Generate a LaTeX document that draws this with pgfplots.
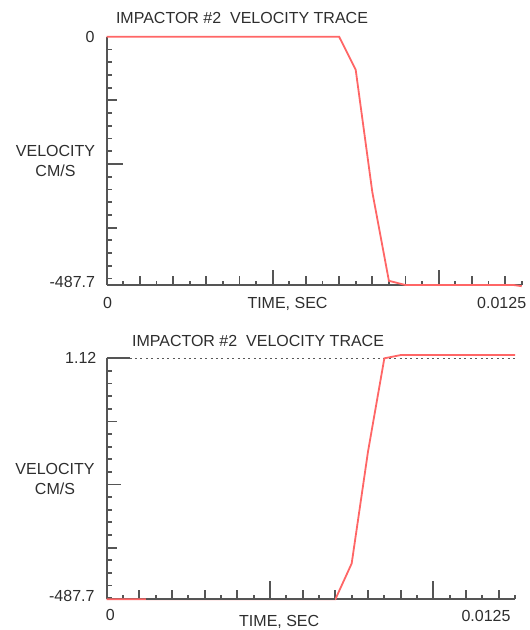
\documentclass[border=0pt]{standalone}
\usepackage{pgfplots}
\pgfplotsset{compat=1.18}
\usepackage{fontspec}
\setmainfont{Liberation Sans}

\definecolor{inktext}{HTML}{2E2E2E}
\definecolor{inkaxis}{HTML}{555555}
\definecolor{trace}{HTML}{FF6666}
\definecolor{refline}{HTML}{585858}

% velocity history of impactor #2 (time in s, velocity in cm/s)
\pgfplotstableread{
t        v
0        0
0.007    0
0.0075   -65
0.008    -305
0.0085   -479.5
0.009    -487.7
0.01225  -487.7
0.0125   -490
}\tracefall
\pgfplotstableread{
t        v
0        -487.7
0.007    -487.7
0.0075   -415
0.008    -188
0.0085   1.12
0.009    7.7
0.0125   7.7
}\tracerise

\tikzset{lbl/.style={font=\fontsize{16bp}{20bp}\selectfont, text=inktext, inner sep=0pt}}
\pgfplotsset{
  common/.style={
    scale only axis, clip=false,
    xmin=0, xmax=0.0125,
    scaled x ticks=false, scaled y ticks=false,
    xtick=\empty, ytick=\empty,
  },
  % upper panel geometry
  upper/.style={common, at={(106.7bp,-285bp)}, anchor=south west,
    width=415bp, height=248.3bp, ymin=-487.7, ymax=0},
  % lower panel geometry
  lower/.style={common, at={(106.7bp,-599.3bp)}, anchor=south west,
    width=408.3bp, height=241bp, ymin=-487.7, ymax=1.12},
  % an axis that only carries one set of tick marks of one length
  ticks only/.style={
    axis lines*=left, axis line style={draw=none},
    tick style={inkaxis, line width=1.8bp}, tick align=inside,
    xticklabels={}, yticklabels={}, major tick length=#1,
  },
  t small/.style={xtick={0.0005,0.0015,0.0025,0.0035,0.0045,0.0055,0.0065,0.0075,0.0085,0.0095,0.0105,0.0115,0.0125}},
  t mid/.style={xtick={0.001,0.002,0.003,0.004,0.006,0.007,0.008,0.009,0.011,0.012}},
  t long/.style={xtick={0.005,0.01}},
  frame/.style={axis lines*=left, axis line style={inkaxis, line width=1.8bp}},
}

\begin{document}
\begin{tikzpicture}
\path[use as bounding box, fill=white] (0,0) rectangle (530bp,-630bp);

% ---------------- upper panel ----------------
\begin{axis}[upper, ticks only=4bp, t small]\end{axis}
\begin{axis}[upper, ticks only=9bp, t mid]\end{axis}
\begin{axis}[upper, ticks only=15bp, t long]\end{axis}
\begin{axis}[upper, ticks only=5bp,
  ytick={-25,-50,-75,-100,-150,-175,-200,-225,-275,-300,-325,-350,-400,-425,-450,-475}]\end{axis}
\begin{axis}[upper, ticks only=10.5bp, ytick={-125,-375}]\end{axis}
\begin{axis}[upper, ticks only=16bp, ytick={-250}]\end{axis}
\begin{axis}[upper, frame]
\addplot[trace, line width=1.8bp] table[x=t, y=v] {\tracefall};
\node[lbl, anchor=base] at (rel axis cs:0.326,1) [yshift=13.7bp] {IMPACTOR \#2\ \ VELOCITY TRACE};
\node[lbl, anchor=east] at (rel axis cs:0,1) [xshift=-12bp] {0};
\node[lbl, anchor=east] at (rel axis cs:0,0) [xshift=-11.5bp, yshift=3bp] {-487.7};
\node[lbl, align=center] at (rel axis cs:0,0.5) [xshift=-51.2bp] {VELOCITY\\CM/S};
\node[lbl, anchor=base] at (rel axis cs:0,0) [xshift=0.8bp, yshift=-23.3bp] {0};
\node[lbl, anchor=base] at (rel axis cs:0.4357,0) [yshift=-23.3bp] {TIME, SEC};
\node[lbl, anchor=base] at (rel axis cs:1,0) [xshift=-20bp, yshift=-23.3bp] {0.0125};
\end{axis}

% ---------------- lower panel ----------------
\begin{axis}[lower, ticks only=4bp, t small]\end{axis}
\begin{axis}[lower, ticks only=9bp, t mid]\end{axis}
\begin{axis}[lower, ticks only=18.5bp, t long]\end{axis}
\begin{axis}[lower, ticks only=5bp,
  ytick={-24.48,-50.08,-75.68,-101.28,-152.48,-178.08,-203.68,-229.28,-280.48,-306.08,-331.68,-357.28,-408.48,-434.08,-459.68,-485.28}]\end{axis}
\begin{axis}[lower, ticks only=10.5bp, ytick={-126.88,-382.88}]\end{axis}
\begin{axis}[lower, ticks only=14.5bp, ytick={-254.88}]\end{axis}
\begin{axis}[lower, frame]
% reference level at the final velocity
\addplot[inkaxis, line width=1.8bp] coordinates {(0,1.12) (0.0007,1.12)};
\addplot[refline, line width=1.6bp, dash pattern=on 2bp off 3.4bp] coordinates {(0.0007,1.12) (0.0125,1.12)};
\addplot[trace, line width=1.8bp] table[x=t, y=v] {\tracerise};
% axis baseline drawn over the resting part of the trace
\addplot[inkaxis, line width=1.8bp] coordinates {(0.0012,-487.7) (0.007,-487.7)};
\node[lbl, anchor=base] at (rel axis cs:0.3706,1) [yshift=12.1bp] {IMPACTOR \#2\ \ VELOCITY TRACE};
\node[lbl, anchor=east] at (rel axis cs:0,1) [xshift=-10.2bp] {1.12};
\node[lbl, anchor=east] at (rel axis cs:0,0) [xshift=-12bp, yshift=3bp] {-487.7};
\node[lbl, align=center] at (rel axis cs:0,0.5) [xshift=-51.7bp] {VELOCITY\\CM/S};
\node[lbl, anchor=base] at (rel axis cs:0,0) [xshift=3.6bp, yshift=-21.4bp] {0};
\node[lbl, anchor=base] at (rel axis cs:0.4225,0) [yshift=-26.7bp] {TIME, SEC};
\node[lbl, anchor=base] at (rel axis cs:1,0) [xshift=-29bp, yshift=-22.4bp] {0.0125};
\end{axis}
\end{tikzpicture}
\end{document}
